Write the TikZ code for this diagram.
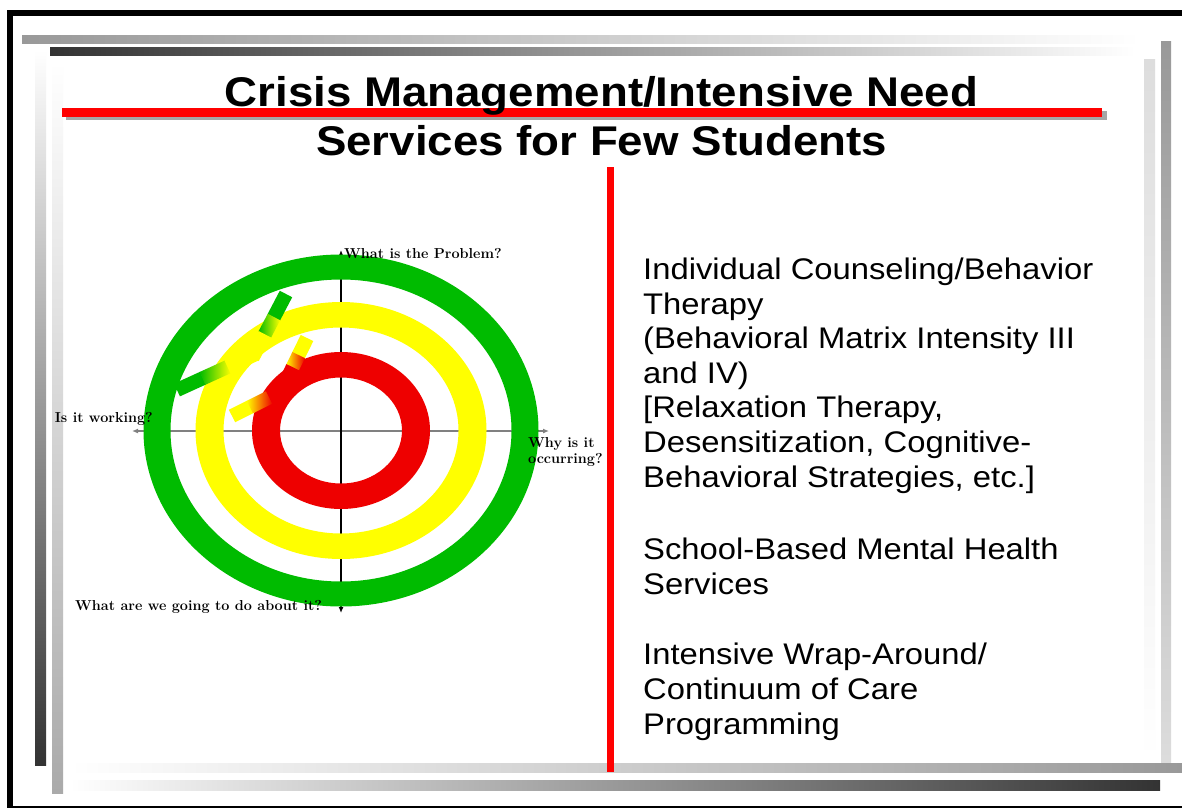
\documentclass[tikz,border=0pt]{standalone}
\usepackage{fontspec}
\newfontfamily\arialS[FakeStretch=1.1]{Liberation Sans}
\usetikzlibrary{arrows.meta}
\definecolor{ringgreen}{RGB}{0,187,0}
\definecolor{ringyellow}{RGB}{255,255,0}
\definecolor{ringred}{RGB}{238,0,0}
\definecolor{linered}{RGB}{255,0,0}
\definecolor{gmid}{HTML}{999999}
\definecolor{gdark}{HTML}{333333}
\definecolor{glight}{HTML}{DDDDDD}
\definecolor{gleft}{HTML}{AAAAAA}
\tikzset{
  titletext/.style={font=\arialS\bfseries\fontsize{41.5}{48}\selectfont, inner sep=0pt},
  rtext/.style={font=\arialS\fontsize{29.8}{34.6}\selectfont, align=left, inner sep=0pt},
  qlabel/.style={font=\fontsize{14.4}{16}\selectfont\bfseries, inner sep=0pt},
  vaxis/.style={black, line width=1.3pt, {Latex[length=6pt,width=5pt]}-{Latex[length=6pt,width=5pt]}},
  haxis/.style={gray, line width=1.6pt, {Latex[length=6pt,width=5pt]}-{Latex[length=6pt,width=5pt]}}
}
\begin{document}
\begin{tikzpicture}[x=1pt,y=-1pt]
\useasboundingbox (0,0) rectangle (1182,808);
\fill[white] (0,0) rectangle (1182,808);
% frame
\fill[black] (7,10) rectangle (1182,16);
\fill[black] (7,10) rectangle (13,808);
\fill[black] (7,805.5) rectangle (1182,807.5);
% gradient bars
\shade[left color=gmid, right color=white] (22,36) rectangle (1140,44);
\shade[left color=gdark, right color=white] (50,48) rectangle (1135,56);
\shade[top color=gmid, bottom color=glight] (1161,42) rectangle (1171,770);
\shade[top color=glight, bottom color=white] (1144,60) rectangle (1155,760);
\shade[left color=white, right color=gmid] (70,763) rectangle (1182,772);
\shade[left color=white, right color=gdark] (70,780) rectangle (1160,790);
\shade[top color=white, bottom color=gdark] (35,50) rectangle (46,765);
\shade[top color=white, bottom color=gleft] (52,62) rectangle (63,793);
% title underline
\fill[gray!70] (66,111) rectangle (1107,120);
\fill[linered] (62,108) rectangle (1102,117);
% title
\node[titletext, anchor=base] (t1) at (601.5,106) {Crisis Management/Intensive Need};
\node[titletext, anchor=base] (t2) at (601.5,155) {Services for Few Students};
% divider
\fill[linered] (607,167) rectangle (614,772);
% axes
\coordinate (ctr) at (341,430.5);
\coordinate (atop) at (341,250);
\coordinate (abot) at (341,613);
\coordinate (aleft) at (132,431);
\coordinate (aright) at (549,431);
\draw[haxis] (aleft) -- (aright);
\draw[vaxis] (atop) -- (abot);
% rings
\fill[ringgreen, even odd rule] (ctr) ellipse [x radius=197.5, y radius=176] (ctr) ellipse [x radius=170.5, y radius=151];
\fill[ringyellow, even odd rule] (ctr) ellipse [x radius=145.5, y radius=128.5] (ctr) ellipse [x radius=117.5, y radius=103];
\fill[ringred, even odd rule] (ctr) ellipse [x radius=89, y radius=78.5] (ctr) ellipse [x radius=61, y radius=53];
% gradient strokes (green -> yellow)
\begin{scope}[shift={(286,294)}, rotate=242.35]
  \fill[ringgreen] (0,-7) rectangle (26.5,7);
  \shade[left color=ringgreen, right color=ringyellow] (26,-7) rectangle (46,7);
  \fill[ringyellow] (45.5,-7) rectangle (72,7);
\end{scope}
\begin{scope}[shift={(177,390)}, rotate=24.5]
  \fill[ringgreen] (0,-7) rectangle (28.5,7);
  \shade[left color=ringgreen, right color=ringyellow] (28,-7) rectangle (56,7);
  \fill[ringyellow] (55.5,-7) rectangle (87,7);
\end{scope}
% gradient strokes (yellow -> red)
\begin{scope}[shift={(307,338)}, rotate=243.9]
  \fill[ringyellow] (0,-7) rectangle (19.5,7);
  \shade[left color=ringyellow, right color=ringred] (19,-7) rectangle (33,7);
  \fill[ringred] (32.5,-7) rectangle (52,7);
\end{scope}
\begin{scope}[shift={(232,416)}, rotate=26.6]
  \fill[ringyellow] (0,-7) rectangle (20.5,7);
  \shade[left color=ringyellow, right color=ringred] (20,-7) rectangle (42,7);
  \fill[ringred] (41.5,-7) rectangle (58,7);
\end{scope}
% axis labels
\node[qlabel, anchor=base west] (qtop) at (344,258) {What is the Problem?};
\node[qlabel, anchor=base east] (qleft) at (153,422) {Is it working?};
\node[qlabel, anchor=base west] (qright1) at (528,447) {Why is it};
\node[qlabel, anchor=base west] (qright2) at (528,463) {occurring?};
\node[qlabel, anchor=base west] (qbot) at (75,610) {What are we going to do about it?};
% right text (base anchor = last line)
\node[rtext, anchor=base west] (s1) at (643,487) {Individual Counseling/Behavior\\Therapy\\(Behavioral Matrix Intensity III\\and IV)\\{[Relaxation Therapy,}\\Desensitization, Cognitive-\\Behavioral Strategies, etc.]};
\node[rtext, anchor=base west] (s2) at (643,594) {School-Based Mental Health\\Services};
\node[rtext, anchor=base west] (s3) at (643,734) {Intensive Wrap-Around/\\Continuum of Care\\Programming};
\end{tikzpicture}
\end{document}
